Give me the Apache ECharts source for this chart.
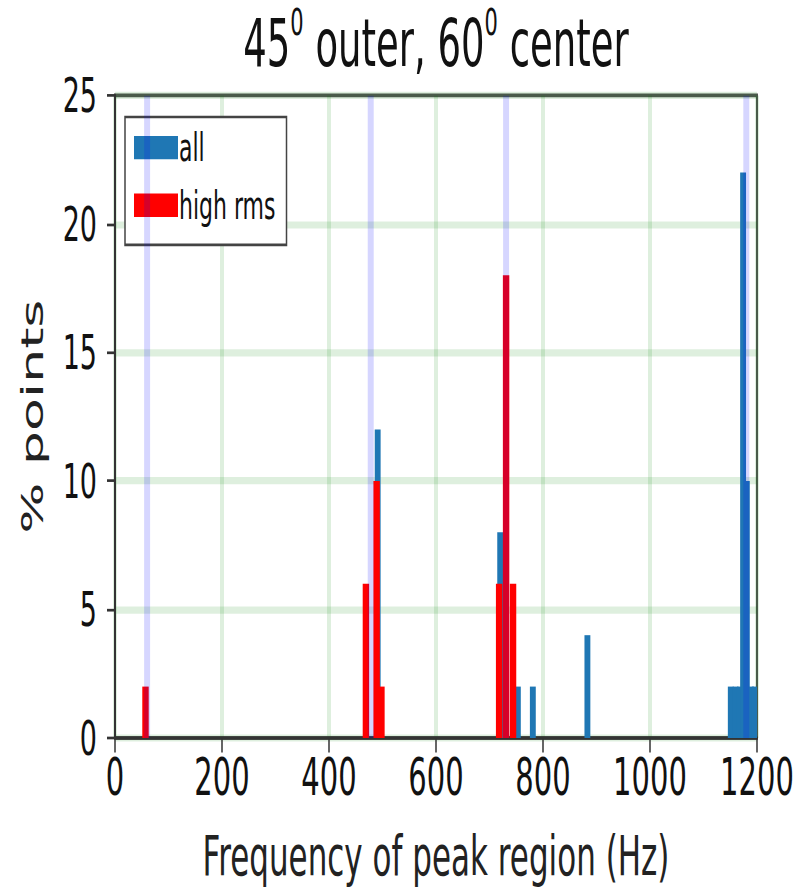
<!DOCTYPE html>
<html lang="en">
<head>
    <meta charset="UTF-8">
    <title>Peak region frequency</title>
    <style>
        html,body{
            margin:0;
            padding:0;
            background:#fff;
        }
        #wrap{
            width:802px;
            height:893px;
            position:relative;
        }
        #main{
            position:absolute;
            left:0;
            top:0;
            width:802px;
            height:496px;
            transform:scaleY(1.8);
            transform-origin:0 0;
        }
    </style>
    <script type="text/javascript" src="https://cdn.jsdelivr.net/npm/echarts@6/dist/echarts.min.js"></script>
</head>
<body>
<div id="wrap"><div id="main"></div></div>
</body>
<script>
    // histogram bins: [bin centre (Hz), % points]
    let allBins=[[491,12],[720,8],[753,2],[781,2],[883,4],
        [1151,2],[1160,2],[1168,2],[1174,22],[1181,10],[1189,2],[1196,2]];
    let highRmsBins=[[57,2],[469,6],[489,10],[498,2],[718,6],[731,18],[744,6]];
    // reference frequencies marked with faint vertical lines
    let markFreqs=[60,478,731,1180];
    let xTicks=[0,200,400,600,800,1000,1200];
    let yTicks=[0,5,10,15,20,25];

    let font='DejaVu Sans';
    let chart=echarts.init(document.getElementById('main'),null,{renderer:'svg'});

    function barItem(width,color){
        return function(params,api){
            let f=api.value(0),h=api.value(1);
            let a=api.coord([f-width/2,h]);
            let b=api.coord([f+width/2,0]);
            return {
                type:'rect',
                shape:{x:a[0],y:a[1],width:b[0]-a[0],height:b[1]-a[1]},
                style:{fill:color}
            };
        };
    }

    let option={
        animation:false,
        title:{
            text:'45{s|0} outer, 60{s|0} center',
            left:436,
            top:2,
            textAlign:'center',
            padding:0,
            textStyle:{
                fontFamily:font,
                fontWeight:'normal',
                fontSize:37,
                lineHeight:44,
                color:'#111',
                rich:{
                    s:{fontFamily:font,fontSize:21,lineHeight:34,verticalAlign:'top',color:'#111'}
                }
            }
        },
        grid:{
            left:115,
            right:45,
            top:53,
            bottom:85,
            show:true,
            borderColor:'#555',
            borderWidth:2
        },
        legend:{
            orient:'vertical',
            left:125,
            top:65,
            padding:[6,11,11,9],
            itemWidth:44,
            itemHeight:13,
            itemGap:10,
            backgroundColor:'#fff',
            borderColor:'#444',
            borderWidth:1.5,
            textStyle:{fontFamily:font,fontSize:22,color:'#111',padding:[0,0,0,-4]},
            data:[{name:'all',icon:'rect'},{name:'high rms',icon:'rect'}]
        },
        xAxis:{
            type:'value',
            min:0,
            max:1200,
            interval:200,
            name:'Frequency of peak region (Hz)',
            nameLocation:'middle',
            nameGap:50,
            nameTextStyle:{fontFamily:font,fontSize:31,color:'#222'},
            axisLine:{show:true,lineStyle:{color:'#333',width:2}},
            axisTick:{show:true,length:8,lineStyle:{color:'#333',width:1.5}},
            axisLabel:{fontFamily:font,fontSize:29,color:'#111',margin:7,
                formatter:v=>xTicks.includes(v)?String(v):''},
            splitLine:{show:true,lineStyle:{color:'rgba(0,128,0,0.13)',width:4}}
        },
        yAxis:{
            type:'value',
            min:0,
            max:25,
            interval:5,
            name:'% points',
            nameLocation:'middle',
            nameGap:68,
            nameTextStyle:{fontFamily:font,fontSize:30,color:'#222'},
            axisLine:{show:true,lineStyle:{color:'#333',width:2}},
            axisTick:{show:true,length:8,lineStyle:{color:'#333',width:1.5}},
            axisLabel:{fontFamily:font,fontSize:27,color:'#111',margin:18,
                formatter:v=>yTicks.includes(v)?String(v):''},
            splitLine:{show:true,lineStyle:{color:'rgba(0,128,0,0.13)',width:4}}
        },
        series:[
            {
                type:'custom',
                name:'all',
                itemStyle:{color:'#1f77b4'},
                renderItem:barItem(11,'#1f77b4'),
                clip:true,
                encode:{x:0,y:1},
                data:allBins,
                z:2
            },
            {
                type:'custom',
                name:'high rms',
                itemStyle:{color:'#ff0000'},
                renderItem:barItem(12,'#ff0000'),
                clip:true,
                encode:{x:0,y:1},
                data:highRmsBins,
                z:3
            },
            {
                type:'custom',
                name:'marks',
                silent:true,
                clip:true,
                renderItem:function(params,api){
                    let f=api.value(0);
                    let top=api.coord([f,25]);
                    let bot=api.coord([f,0]);
                    return {
                        type:'line',
                        shape:{x1:top[0],y1:top[1],x2:bot[0],y2:bot[1]},
                        style:{stroke:'rgba(0,0,255,0.16)',lineWidth:6}
                    };
                },
                encode:{x:0},
                data:markFreqs.map(f=>[f]),
                z:4
            }
        ]
    };
    chart.setOption(option);
</script>
</html>
